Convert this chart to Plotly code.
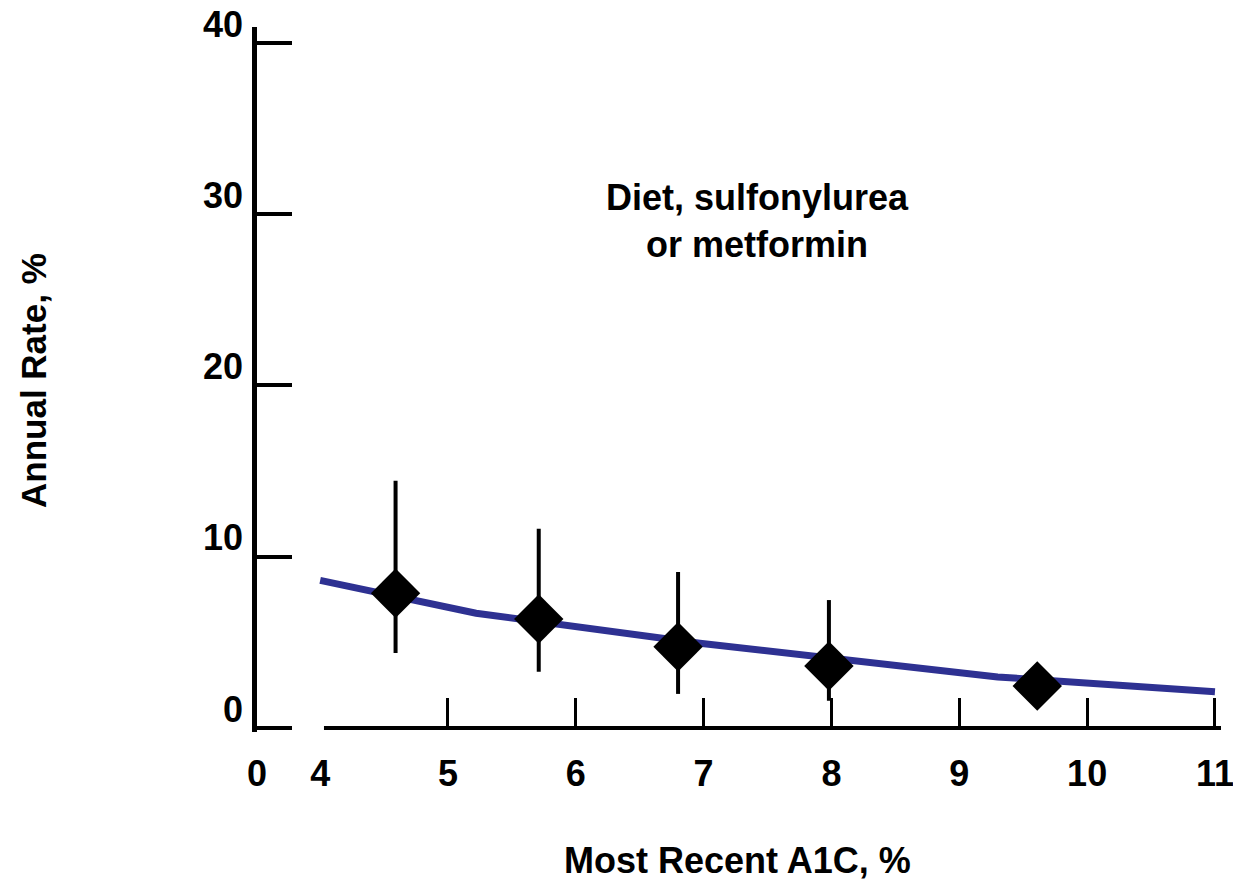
import plotly.graph_objects as go

# ---- data ----
a1c = [4.59, 5.71, 6.80, 7.98, 9.61]
rate = [7.87, 6.36, 4.74, 3.62, 2.45]
err_plus = [6.57, 5.28, 4.37, 3.85, 0.0]
err_minus = [3.49, 3.07, 2.75, 2.03, 0.0]

fit_x = [4.0, 5.22, 6.97, 9.3, 11.0]
fit_y = [8.62, 6.70, 4.95, 2.98, 2.12]

x_label_pos = [3.506, 4, 5, 6, 7, 8, 9, 10, 11]
x_label_text = ["0", "4", "5", "6", "7", "8", "9", "10", "11"]
x_tick_vals = [5, 6, 7, 8, 9, 10, 11]
y_tick_vals = [0, 10, 20, 30, 40]

FONT = "Liberation Sans, Arial, sans-serif"
LINE_COLOR = "#2E3192"

W, H = 1233, 880
L, R, T, B = 257, 12, 27, 148
px_per_x = 127.83
x0 = 3.506
x1 = x0 + (W - L - R) / px_per_x
y0, y1 = -0.234, 40.93
axis_start = 4.03
plot_h = H - T - B
zero_pos = (0 - y0) / (y1 - y0)

fig = go.Figure()

fig.add_trace(go.Scatter(
    x=fit_x, y=fit_y, mode="lines",
    line=dict(color=LINE_COLOR, width=7),
    hoverinfo="skip", showlegend=False,
))

fig.add_trace(go.Scatter(
    x=a1c, y=rate, mode="markers",
    marker=dict(symbol="diamond", size=38, color="black"),
    error_y=dict(type="data", array=err_plus, arrayminus=err_minus,
                 color="black", thickness=4, width=0),
    showlegend=False,
))

# overlay x-axis carrying the upward tick marks at y = 0
fig.add_trace(go.Scatter(x=[x0, x1], y=[None, None], xaxis="x2",
                         mode="markers", showlegend=False, hoverinfo="skip"))

# broken x-axis line (starts at 4)
fig.add_shape(type="line", xref="x", yref="y", x0=axis_start, x1=x1, y0=0, y1=0,
              line=dict(color="black", width=4), layer="above")

fig.update_layout(
    width=W, height=H,
    margin=dict(l=L, r=R, t=T, b=B, pad=0, autoexpand=False),
    paper_bgcolor="white", plot_bgcolor="white",
    font=dict(family=FONT, color="black", size=36),
    xaxis=dict(
        range=[x0, x1], domain=[0, 1], automargin=False,
        tickmode="array", tickvals=x_label_pos, ticktext=x_label_text,
        ticks="", showline=False, showgrid=False, zeroline=False,
        tickfont=dict(family=FONT, size=36, color="black", weight="bold"),
        ticklabelstandoff=17, ticklabeloverflow="allow",
    ),
    xaxis2=dict(
        overlaying="x", anchor="free", position=zero_pos, automargin=False,
        range=[x0, x1],
        tickmode="array", tickvals=x_tick_vals,
        ticks="inside", ticklen=30, tickwidth=3.2, tickcolor="black",
        showticklabels=False, showline=False,
        showgrid=False, zeroline=False,
    ),
    yaxis=dict(
        range=[y0, y1], automargin=False,
        tickmode="array", tickvals=y_tick_vals,
        ticks="inside", ticklen=35, tickwidth=4, tickcolor="black",
        showline=True, linewidth=4.5, linecolor="black",
        showgrid=False, zeroline=False,
        tickfont=dict(family=FONT, size=36, color="black", weight="bold"),
        ticklabelshift=-19, ticklabelstandoff=2, ticklabeloverflow="allow",
    ),
    annotations=[
        dict(text="Diet, sulfonylurea<br>or metformin", x=7.425, y=29.6,
             xref="x", yref="y", showarrow=False, align="center",
             xanchor="center", yanchor="middle",
             font=dict(family=FONT, size=36, color="black", weight="bold")),
        dict(text="Annual Rate, %", x=(33 - L) / (W - L - R),
             y=(H - B - 381) / plot_h,
             xref="paper", yref="paper", showarrow=False, textangle=-90,
             xanchor="center", yanchor="middle",
             font=dict(family=FONT, size=35, color="black", weight="bold")),
        dict(text="Most Recent A1C, %", x=(737 - L) / (W - L - R),
             y=(H - B - 860) / plot_h,
             xref="paper", yref="paper", showarrow=False,
             xanchor="center", yanchor="middle",
             font=dict(family=FONT, size=36, color="black", weight="bold")),
    ],
)

fig.write_html("out.html", config={"displayModeBar": False},
               post_script="document.body.style.margin='0px';")
